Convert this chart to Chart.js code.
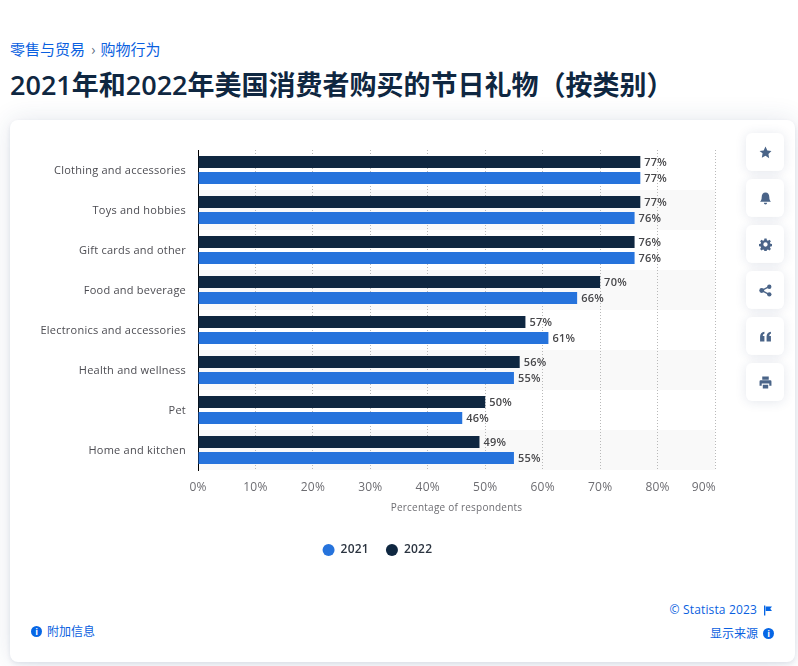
<!DOCTYPE html>
<html lang="zh">
<head>
<meta charset="utf-8">
<title>节日礼物</title>
<script src="https://cdn.jsdelivr.net/npm/chart.js@4"></script>
<style>
  html, body { margin: 0; height: 100%; }
  body { width: 798px; height: 666px; position: relative; overflow: hidden; background: #fff; font-family: "Open Sans", "Noto Sans CJK SC", sans-serif; }
  .crumb { position: absolute; left: 10px; top: 39px; font: 15px/20px "Noto Sans CJK SC", sans-serif; color: #0a5fe0; white-space: nowrap; }
  .crumb span { color: #5b6b80; margin: 0 5px 0 6px; }
  h1 { position: absolute; left: 10px; top: 66px; margin: 0; font: 600 27px/38px "Open Sans", "Noto Sans CJK SC", sans-serif; color: #0f2741; white-space: nowrap; }
  .card { position: absolute; left: 10px; top: 120px; width: 785px; height: 542px; background: #fff; border-radius: 8px; box-shadow: 0 0 26px rgba(30,60,110,0.12), 0 2px 4px rgba(30,60,110,0.10); }
  canvas { position: absolute; left: 10px; top: 120px; }
  .btn { position: absolute; left: 746px; width: 38px; height: 38px; background: #fff; border-radius: 6px; box-shadow: 0 1px 12px rgba(30,60,110,0.12); display: flex; align-items: center; justify-content: center; }
  .btn svg { width: 13px; height: 13px; fill: #4a6488; }
  .link { position: absolute; font: 12px/16px "Noto Sans CJK SC", "Open Sans", sans-serif; color: #0a5fe0; white-space: nowrap; display: flex; align-items: center; gap: 5px; }
  .dot { width: 11px; height: 11px; border-radius: 50%; background: #0666e5; color: #fff; font: 700 9px/11px "Open Sans", sans-serif; text-align: center; display: inline-block; }
</style>
</head>
<body>
<div class="crumb">零售与贸易<span>›</span>购物行为</div>
<h1>2021年和2022年美国消费者购买的节日礼物（按类别）</h1>
<div class="card"></div>
<canvas id="chart" width="736" height="446"></canvas>

<div class="btn" style="top:133px"><svg viewBox="0 0 24 24"><path d="M12 1l3.400 7.200 7.600 1-5.600 5.400 1.400 7.900L12 18l-6.800 3.500 1.400-7.900L1 9.200l7.600-1z"/></svg></div>
<div class="btn" style="top:179px"><svg viewBox="0 0 24 24"><path d="M12 1c-4.500 0-7 3.500-7 8 0 5-1.500 7-3 9h20c-1.500-2-3-4-3-9 0-4.500-2.500-8-7-8zM9 20a3 3 0 0 0 6 0z"/></svg></div>
<div class="btn" style="top:225px"><svg viewBox="0 0 24 24"><path fill-rule="evenodd" d="M10 1h4l.6 3.100 2 .8 2.600-1.800 2.800 2.800-1.800 2.600.8 2 3 .5v4l-3 .6-.8 2 1.800 2.600-2.800 2.800-2.600-1.800-2 .8-.6 3h-4l-.6-3-2-.8-2.600 1.800-2.800-2.800 1.800-2.600-.8-2-3-.6v-4l3-.5.8-2-1.800-2.600 2.800-2.800 2.600 1.800 2-.8zM12 8a4 4 0 1 0 0 8 4 4 0 0 0 0-8z"/></svg></div>
<div class="btn" style="top:271px"><svg viewBox="0 0 24 24"><circle cx="19" cy="5" r="4"/><circle cx="19" cy="19" r="4"/><circle cx="5" cy="12" r="4.500"/><path d="M5 10.500L18 3.500l1 2.500L6 13zM6 11l13 7-1 2.500-13-7z"/></svg></div>
<div class="btn" style="top:317px"><svg viewBox="0 0 24 24"><path d="M2 21V12C2 7 5 4 10 3v4c-2 .5-3 2-3 4h3v10zM14 21V12c0-5 3-8 8-9v4c-2 .5-3 2-3 4h3v10z"/></svg></div>
<div class="btn" style="top:363px"><svg viewBox="0 0 24 24"><path d="M6 1h12v6H6zM3 8h18a2 2 0 0 1 2 2v8h-4v-4H5v4H1v-8a2 2 0 0 1 2-2zM7 16h10v7H7z"/></svg></div>

<div class="link" style="left:31px;top:623px"><span class="dot">i</span>附加信息</div>
<div class="link" style="right:26px;top:602px;font-family:'Open Sans',sans-serif;letter-spacing:.15px">© Statista 2023 <svg width="8" height="11" viewBox="0 0 9 11" style="margin-left:2px"><path d="M0 0h1.500v11H0zM2 1h7L7 3.500 9 6H2z" fill="#0666e5"/></svg></div>
<div class="link" style="right:24px;top:625px">显示来源 <span class="dot">i</span></div>

<script>
const categories = ['Clothing and accessories', 'Toys and hobbies', 'Gift cards and other', 'Food and beverage', 'Electronics and accessories', 'Health and wellness', 'Pet', 'Home and kitchen'];
const values2022 = [77, 77, 76, 70, 57, 56, 50, 49];
const values2021 = [77, 76, 76, 66, 61, 55, 46, 55];
const xTicks = [0, 10, 20, 30, 40, 50, 60, 70, 80, 90];

const NAVY = '#0f2741';
const BLUE = '#2673dc';
const FONT = '"Open Sans", sans-serif';
const SPACING = '0.23px';

// ── Letter spacing has to be put back after any canvas reset ──
const spacingPlugin = {
  id: 'spacing',
  beforeDraw(chart) { chart.ctx.letterSpacing = SPACING; },
};

// ── Grey band behind every second category ──
const bandPlugin = {
  id: 'bands',
  beforeDraw(chart) {
    const { ctx, chartArea, scales: { y } } = chart;
    ctx.save();
    ctx.fillStyle = '#f9f9f9';
    categories.forEach((c, i) => {
      if (i % 2 === 0) return;
      const top = y.getPixelForValue(i) - 20;
      ctx.fillRect(chartArea.left, top, chartArea.width, 40);
    });
    ctx.restore();
  },
};

// ── Percent labels at the bar ends, plus the last tick pulled inside ──
const labelPlugin = {
  id: 'labels',
  afterDatasetsDraw(chart) {
    const { ctx, scales: { x } } = chart;
    ctx.save();
    ctx.font = '600 11px ' + FONT;
    ctx.fillStyle = '#47474a';
    ctx.textAlign = 'left';
    ctx.textBaseline = 'middle';
    chart.data.datasets.forEach((ds, d) => {
      chart.getDatasetMeta(d).data.forEach((bar, i) => {
        ctx.fillText(ds.data[i] + '%', bar.x + 4, bar.y + 1);
      });
    });
    ctx.font = '12px ' + FONT;
    ctx.fillStyle = '#6d6d72';
    ctx.textAlign = 'right';
    ctx.textBaseline = 'top';
    ctx.fillText(xTicks[9] + '%', x.getPixelForValue(xTicks[9]) + 1, x.top + 12);
    ctx.restore();
  },
};

new Chart(document.getElementById('chart').getContext('2d'), {
  type: 'bar',
  data: {
    labels: categories,
    datasets: [
      { label: '2022', data: values2022, backgroundColor: NAVY },
      { label: '2021', data: values2021, backgroundColor: BLUE },
    ],
  },
  options: {
    indexAxis: 'y',
    responsive: false,
    animation: false,
    layout: { padding: { top: 30, right: 31, left: 28, bottom: 0 } },
    datasets: { bar: { categoryPercentage: 0.8, barPercentage: 0.75 } },
    plugins: {
      tooltip: { enabled: false },
      legend: {
        position: 'bottom',
        reverse: true,
        onClick: null,
        labels: {
          usePointStyle: true,
          pointStyle: 'circle',
          boxWidth: 12,
          boxHeight: 8.5,
          padding: 17,
          color: '#2b3440',
          font: { family: FONT, size: 12, weight: '600' },
        },
      },
    },
    scales: {
      x: {
        min: 0,
        max: 90,
        afterBuildTicks(scale) { scale.ticks = xTicks.map(v => ({ value: v })); },
        afterFit(scale) { scale.height = 57; },
        border: { display: false, dash: [1, 2] },
        grid: { color: '#b9b9b9', lineWidth: 1, drawTicks: false, z: 0 },
        ticks: {
          color: '#6d6d72',
          padding: 10,
          maxRotation: 0,
          font: { family: FONT, size: 12 },
          callback: v => (v === 90 ? '' : v + '%'),
        },
        title: {
          display: true,
          text: 'Percentage of respondents',
          color: '#6d6d72',
          padding: { top: 4, bottom: 13 },
          font: { family: FONT, size: 10 },
        },
      },
      y: {
        afterFit(scale) { scale.width = 160; },
        border: { color: '#000', width: 1 },
        grid: { display: false, drawTicks: false },
        ticks: {
          color: '#4c4c52',
          padding: 12,
          labelOffset: 1,
          font: { family: FONT, size: 11 },
        },
      },
    },
  },
  plugins: [spacingPlugin, bandPlugin, labelPlugin],
});
</script>
</body>
</html>
